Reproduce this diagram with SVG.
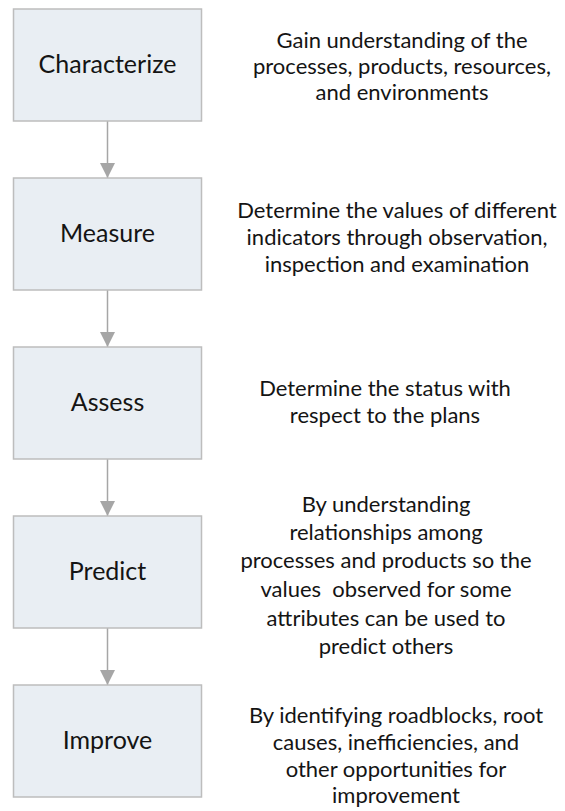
<svg xmlns="http://www.w3.org/2000/svg" width="565" height="811" viewBox="0 0 565 811">
  <defs>
    <style>
      .box { fill: #e9eef3; stroke: #bdbdbd; stroke-width: 1.5; }
      .label { font-family: "Lato", "Open Sans", sans-serif; font-size: 25px; fill: #141414; text-anchor: middle; }
      .desc { font-family: "Lato", "Open Sans", sans-serif; font-size: 22px; fill: #141414; text-anchor: middle; }
      .link { stroke: #a6a6a6; stroke-width: 1.5; fill: none; marker-end: url(#arrow); }
    </style>
    <marker id="arrow" markerUnits="userSpaceOnUse" markerWidth="15" markerHeight="15" refX="15" refY="7.5" orient="auto">
      <path d="M0,0 L15,7.5 L0,15 Z" fill="#a6a6a6"/>
    </marker>
  </defs>
  <rect width="565" height="811" fill="#ffffff"/>

  <!-- connectors between steps -->
  <g id="connectors">
    <line class="link" x1="107.5" y1="121" x2="107.5" y2="178"/>
    <line class="link" x1="107.5" y1="290" x2="107.5" y2="347"/>
    <line class="link" x1="107.5" y1="459" x2="107.5" y2="516"/>
    <line class="link" x1="107.5" y1="628" x2="107.5" y2="685"/>
  </g>

  <g id="characterize">
    <rect class="box" x="13.5" y="9" width="188" height="112"/>
    <text class="label" x="107.5" y="73">Characterize</text>
    <text class="desc" x="402"><tspan x="402" y="48">Gain understanding of the</tspan><tspan x="402" y="74">processes, products, resources,</tspan><tspan x="402" y="100">and environments</tspan></text>
  </g>

  <g id="measure">
    <rect class="box" x="13.5" y="178" width="188" height="112"/>
    <text class="label" x="107.5" y="242">Measure</text>
    <text class="desc" x="397"><tspan x="397" y="218">Determine the values of different</tspan><tspan x="397" y="245">indicators through observation,</tspan><tspan x="397" y="272">inspection and examination</tspan></text>
  </g>

  <g id="assess">
    <rect class="box" x="13.5" y="347" width="188" height="112"/>
    <text class="label" x="107.5" y="411">Assess</text>
    <text class="desc" x="385"><tspan x="385" y="396">Determine the status with</tspan><tspan x="385" y="423">respect to the plans</tspan></text>
  </g>

  <g id="predict">
    <rect class="box" x="13.5" y="516" width="188" height="112"/>
    <text class="label" x="107.5" y="580">Predict</text>
    <text class="desc" x="386"><tspan x="386" y="512">By understanding</tspan><tspan x="386" y="540">relationships among</tspan><tspan x="386" y="568">processes and products so the</tspan><tspan x="386" y="597">values&#160; observed for some</tspan><tspan x="386" y="626">attributes can be used to</tspan><tspan x="386" y="654">predict others</tspan></text>
  </g>

  <g id="improve">
    <rect class="box" x="13.5" y="685" width="188" height="112"/>
    <text class="label" x="107.5" y="749">Improve</text>
    <text class="desc" x="396"><tspan x="396" y="723">By identifying roadblocks, root</tspan><tspan x="396" y="750">causes, inefficiencies, and</tspan><tspan x="396" y="777">other opportunities for</tspan><tspan x="396" y="803">improvement</tspan></text>
  </g>
</svg>
